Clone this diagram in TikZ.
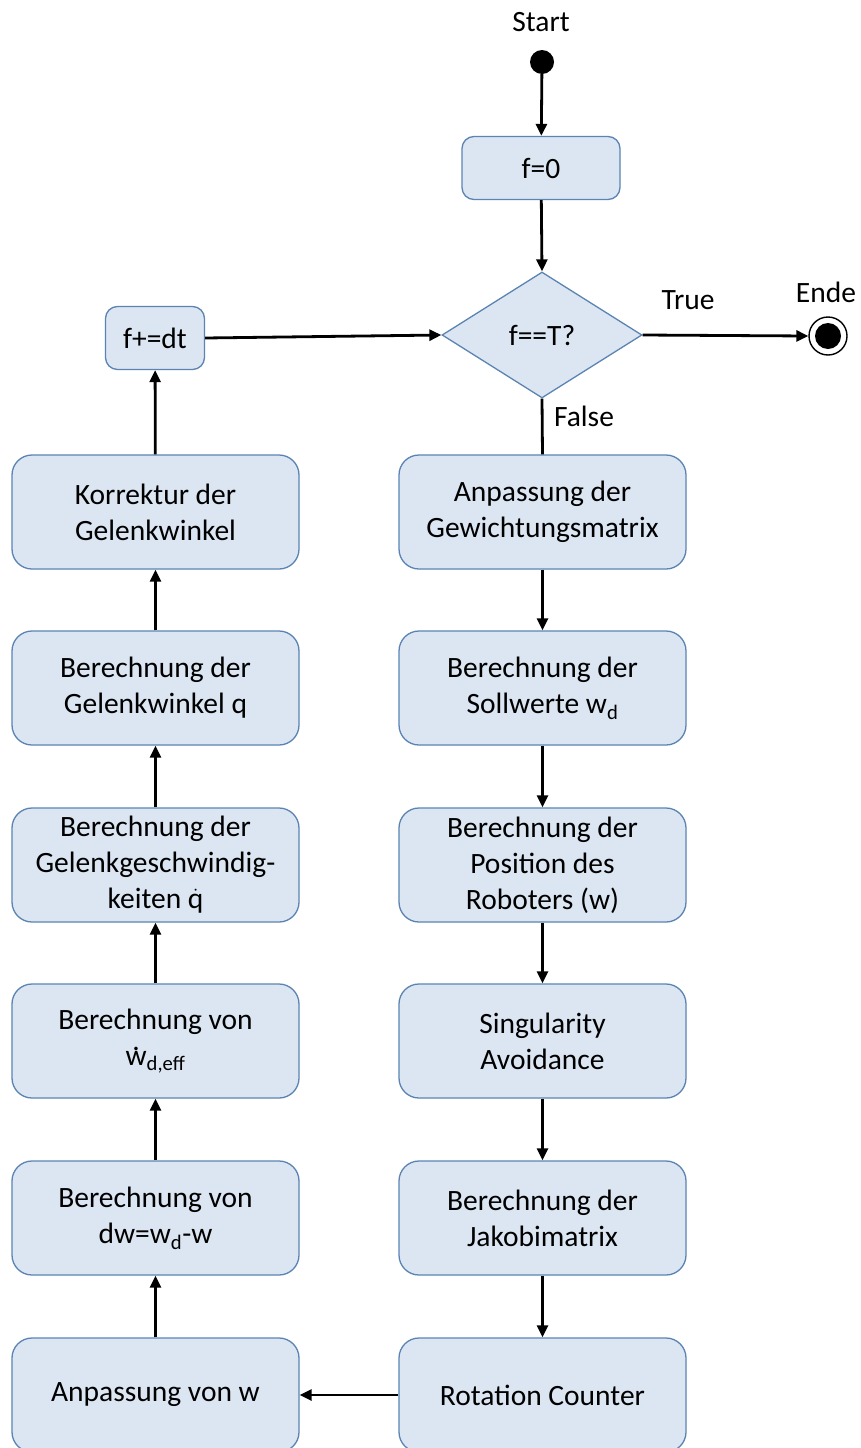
\documentclass[tikz,border=0pt]{standalone}
\usepackage{fontspec}
\setmainfont{Carlito}
\usetikzlibrary{shapes.geometric,arrows.meta}
\definecolor{boxfill}{HTML}{DCE6F2}
\definecolor{boxline}{HTML}{5B84B3}
\newcommand{\wdotted}{\ooalign{w\cr\hidewidth\raisebox{0.5em}{.}\hidewidth\cr}}
\begin{document}
\begin{tikzpicture}[x=1pt,y=-1pt,
  every node/.style={font=\fontsize{29.5}{36}\selectfont, text=black},
  bigbox/.style={draw=boxline, fill=boxfill, line width=1.3pt, rounded corners=20pt,
    minimum width=287pt, minimum height=114pt, align=center, inner sep=0pt},
  smallbox/.style={draw=boxline, fill=boxfill, line width=1.3pt, rounded corners=12pt,
    minimum height=63pt, align=center, inner sep=0pt},
  arr/.style={line width=2.8pt, -{Triangle[length=12pt,width=11pt]}},
  lbl/.style={inner sep=0pt}]
\useasboundingbox (0,0) rectangle (861,1448);
\fill[white] (0,0) rectangle (861,1448);

% start / end
\node[lbl] (starttxt) at (541,22) {Start};
\node[circle, fill=black, minimum size=24pt, inner sep=0pt] (start) at (542,62) {};
\node[lbl] (endetxt) at (826,292) {Ende};
\node[circle, draw=black, fill=white, line width=1.4pt, minimum size=38pt, inner sep=0pt] (ende) at (828,336) {};
\node[circle, fill=black, minimum size=26pt, inner sep=0pt] (endein) at (828,336) {};

% top
\node[smallbox, minimum width=158pt] (f0) at (541,168) {f=0};
\node[diamond, draw=boxline, fill=boxfill, line width=1.3pt, minimum width=200pt, minimum height=126pt, inner sep=0pt] (dia) at (542,335) {f==T?};
\node[smallbox, minimum width=99pt] (fdt) at (155,338) {f+=dt};
\node[lbl] (truetxt) at (688,300) {True};
\node[lbl] (falsetxt) at (584,416) {False};

% right column
\node[bigbox] (r1) at (542.5,512) {Anpassung der\\Gewichtungsmatrix};
\node[bigbox] (r2) at (542.5,688) {Berechnung der\\Sollwerte w\textsubscript{d}};
\node[bigbox] (r3) at (542.5,865) {Berechnung der\\Position des\\Roboters (w)};
\node[bigbox] (r4) at (542.5,1041) {Singularity\\Avoidance};
\node[bigbox] (r5) at (542.5,1218) {Berechnung der\\Jakobimatrix};
\node[bigbox] (r6) at (542.5,1395) {Rotation Counter};

% left column
\node[bigbox] (l1) at (155.5,512) {Korrektur der\\Gelenkwinkel};
\node[bigbox] (l2) at (155.5,688) {Berechnung der\\Gelenkwinkel q};
\node[bigbox] (l3) at (155.5,865) {Berechnung der\\Gelenkgeschwindig-\\keiten $\dot{\mathrm{q}}$};
\node[bigbox] (l4) at (155.5,1041) {Berechnung von\\\wdotted\textsubscript{d,eff}};
\node[bigbox] (l5) at (155.5,1218) {Berechnung von\\dw=w\textsubscript{d}-w};
\node[bigbox] (l6) at (155.5,1395) {Anpassung von w};

% connectors
\draw[arr] (start) -- (f0);
\draw[arr] (f0) -- (dia.north);
\draw[arr] (dia.east) -- (ende.west);
\draw[arr] (fdt.east) -- (dia.west);
\draw[line width=2.8pt] (dia.south) -- (r1.north);
\draw[arr] (r1) -- (r2);
\draw[arr] (r2) -- (r3);
\draw[arr] (r3) -- (r4);
\draw[arr] (r4) -- (r5);
\draw[arr] (r5) -- (r6);
\draw[arr] (r6) -- (l6);
\draw[arr] (l6) -- (l5);
\draw[arr] (l5) -- (l4);
\draw[arr] (l4) -- (l3);
\draw[arr] (l3) -- (l2);
\draw[arr] (l2) -- (l1);
\draw[arr] (l1) -- (fdt);
\end{tikzpicture}
\end{document}
